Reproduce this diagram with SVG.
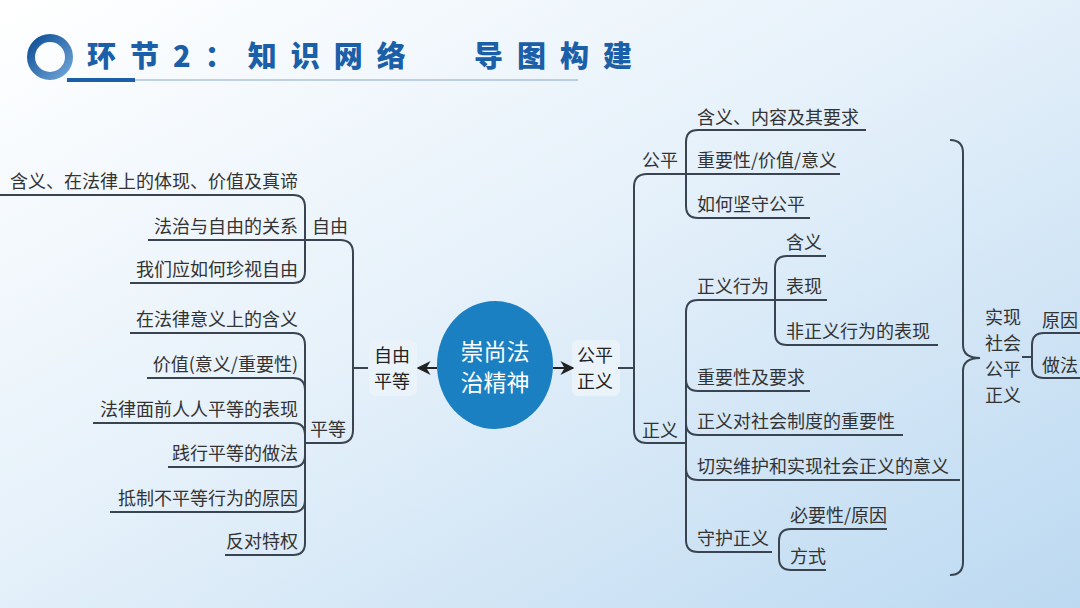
<svg xmlns="http://www.w3.org/2000/svg" width="1080" height="608" viewBox="0 0 1080 608">
<defs>
<linearGradient id="bg" x1="0" y1="0" x2="1" y2="1">
<stop offset="0" stop-color="#ffffff"/><stop offset="0.45" stop-color="#e6f1fa"/><stop offset="1" stop-color="#bcd9f1"/>
</linearGradient>
<linearGradient id="ring" x1="0" y1="0" x2="1" y2="1">
<stop offset="0" stop-color="#0d4f96"/><stop offset="1" stop-color="#6ea3d6"/>
</linearGradient>
<marker id="ar" viewBox="0 0 10 10" refX="9" refY="5" markerWidth="7" markerHeight="7" orient="auto-start-reverse">
<path d="M0,0 L10,5 L0,10 L3,5 z" fill="#222"/>
</marker>
<style>
.t{font-family:"Noto Sans CJK SC","Liberation Sans",sans-serif;font-size:18px;fill:#333}
.r{text-anchor:end}
.n{font-family:"Noto Sans CJK SC","Liberation Sans",sans-serif;font-size:18px;fill:#222}
.l{fill:none;stroke:#3a4450;stroke-width:2}
.h{font-family:"Noto Sans CJK SC",sans-serif;font-size:29px;font-weight:900;fill:#1a5fa8;letter-spacing:14px}
</style>
</defs>
<rect width="1080" height="608" fill="url(#bg)"/>
<g id="title">
<circle cx="50" cy="57" r="19" fill="none" stroke="url(#ring)" stroke-width="8"/>
<text class="h" x="87" y="67">环节2：知识网络</text>
<text class="h" x="474" y="67">导图构建</text>
<rect x="67" y="78" width="68" height="4" fill="#1a5fa8"/>
<line x1="135" y1="80" x2="578" y2="80" stroke="#8aa7c6" stroke-width="1"/>
</g>
<g id="center">
<ellipse cx="495" cy="365" rx="58" ry="64" fill="#1a80c2"/>
<text x="495" y="360" text-anchor="middle" font-family="'Noto Sans CJK SC',sans-serif" font-size="23" fill="#fff">崇尚法</text>
<text x="495" y="391" text-anchor="middle" font-family="'Noto Sans CJK SC',sans-serif" font-size="23" fill="#fff">治精神</text>
</g>
<g id="node-ziyou-pingdeng">
<rect x="369" y="340" width="48" height="56" rx="6" fill="#eaf3fa"/>
<text class="n" x="374" y="362">自由</text><text class="n" x="374" y="388">平等</text>
</g>
<g id="node-gongping-zhengyi">
<rect x="572" y="340" width="48" height="56" rx="6" fill="#eaf3fa"/>
<text class="n" x="577" y="362">公平</text><text class="n" x="577" y="388">正义</text>
</g>
<g id="connectors">
<line x1="437" y1="368" x2="418" y2="368" stroke="#222" stroke-width="2" marker-end="url(#ar)"/>
<line x1="553" y1="368" x2="573" y2="368" stroke="#222" stroke-width="2" marker-end="url(#ar)"/>
<path class="l" d="M148,240 H340 Q353,240 353,253 V430 Q353,443 340,443 H305"/>
<line class="l" x1="353" y1="368" x2="368" y2="368"/>
<path class="l" d="M0,195 H293 Q305,195 305,207 V271 Q305,283 293,283 H130"/>
<path class="l" d="M130,333 H293 Q305,333 305,345 V543 Q305,555 293,555 H225"/>
<path class="l" d="M147,378 H293 Q305,378 305,390"/>
<path class="l" d="M93,423 H293 Q305,423 305,435"/>
<path class="l" d="M168,467 H293 Q305,467 305,455"/>
<path class="l" d="M110,512 H293 Q305,512 305,500"/>
<path class="l" d="M840,174 H647 Q634,174 634,187 V430 Q634,443 647,443 H686"/>
<line class="l" x1="618" y1="368" x2="634" y2="368"/>
<path class="l" d="M866,130 H698 Q686,130 686,142 V206 Q686,218 698,218 H810"/>
<path class="l" d="M827,300 H698 Q686,300 686,312 V540 Q686,552 698,552 H772"/>
<path class="l" d="M810,391 H698 Q686,391 686,379"/>
<path class="l" d="M903,435 H698 Q686,435 686,423"/>
<path class="l" d="M960,480 H698 Q686,480 686,468"/>
<path class="l" d="M826,256 H787 Q775,256 775,268 V333 Q775,345 787,345 H938"/>
<path class="l" d="M887,529 H791 Q779,529 779,541 V558 Q779,570 791,570 H826"/>
<path class="l" d="M950,140 Q963,140 963,153 V345 Q963,358 980,358 Q963,358 963,371 V562 Q963,575 950,575"/>
<line class="l" x1="1022" y1="357" x2="1032" y2="357"/>
<path class="l" d="M1080,333 H1044 Q1032,333 1032,345 V366 Q1032,378 1044,378 H1080"/>
</g>
<g id="left-labels">
<text class="t r" x="298" y="188">含义、在法律上的体现、价值及真谛</text>
<text class="t r" x="298" y="233">法治与自由的关系</text>
<text class="t" x="312" y="233">自由</text>
<text class="t r" x="298" y="276">我们应如何珍视自由</text>
<text class="t r" x="298" y="326">在法律意义上的含义</text>
<text class="t r" x="298" y="371">价值(意义/重要性)</text>
<text class="t r" x="298" y="416">法律面前人人平等的表现</text>
<text class="t" x="310" y="436">平等</text>
<text class="t r" x="298" y="460">践行平等的做法</text>
<text class="t r" x="298" y="505">抵制不平等行为的原因</text>
<text class="t r" x="298" y="548">反对特权</text>
</g>
<g id="right-labels">
<text class="t" x="642" y="167">公平</text>
<text class="t" x="697" y="124">含义、内容及其要求</text>
<text class="t" x="697" y="167">重要性/价值/意义</text>
<text class="t" x="697" y="211">如何坚守公平</text>
<text class="t" x="697" y="293">正义行为</text>
<text class="t" x="786" y="249">含义</text>
<text class="t" x="786" y="293">表现</text>
<text class="t" x="786" y="338">非正义行为的表现</text>
<text class="t" x="697" y="384">重要性及要求</text>
<text class="t" x="642" y="437">正义</text>
<text class="t" x="697" y="428">正义对社会制度的重要性</text>
<text class="t" x="697" y="473">切实维护和实现社会正义的意义</text>
<text class="t" x="697" y="545">守护正义</text>
<text class="t" x="790" y="522">必要性/原因</text>
<text class="t" x="790" y="563">方式</text>
<text class="t" x="985" y="324">实现</text>
<text class="t" x="985" y="350">社会</text>
<text class="t" x="985" y="376">公平</text>
<text class="t" x="985" y="402">正义</text>
<text class="t" x="1042" y="327">原因</text>
<text class="t" x="1042" y="372">做法</text>
</g>
</svg>
